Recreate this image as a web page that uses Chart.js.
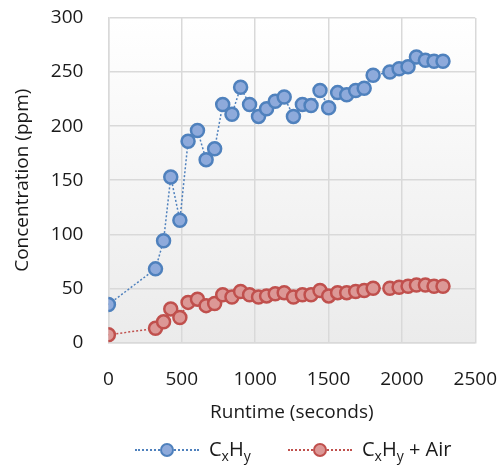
<!DOCTYPE html>
<html lang="en">
  <head>
    <meta charset="UTF-8" />
    <script src="https://cdn.jsdelivr.net/npm/chart.js@4.4.0/dist/chart.umd.min.js"></script>
    <title>Concentration vs runtime</title>
    <style>
      body {
        margin: 0;
        padding: 0;
        background: white;
        font-family: 'Open Sans', sans-serif;
      }

      .container {
        position: relative;
        width: 497px;
        height: 469px;
      }

      .legend {
        position: absolute;
        top: 436px;
        left: 0;
        width: 497px;
        height: 30px;
        font-size: 20px;
        color: #1a1a1a;
      }

      .item {
        position: absolute;
        top: 0;
        display: flex;
        align-items: center;
        height: 28px;
      }

      .swatch {
        position: relative;
        width: 64px;
        height: 14px;
        margin-right: 10px;
      }

      .swatch .line {
        position: absolute;
        left: 0;
        right: 0;
        top: 6px;
        border-top: 2px dotted;
      }

      .swatch .dot {
        position: absolute;
        left: 25px;
        top: 0;
        width: 10px;
        height: 10px;
        border-radius: 50%;
        border: 2px solid;
      }

      sub {
        font-size: 14px;
        vertical-align: -5px;
      }
    </style>
  </head>
  <body>
    <div class="container">
      <canvas id="chart"></canvas>
      <div class="legend">
        <div class="item" style="left: 135px">
          <div class="swatch">
            <div class="line" style="border-color: #4f81bd"></div>
            <div class="dot" style="background: #8eaadb; border-color: #4f81bd"></div>
          </div>
          <span>C<sub>x</sub>H<sub>y</sub></span>
        </div>
        <div class="item" style="left: 288px">
          <div class="swatch">
            <div class="line" style="border-color: #c0504d"></div>
            <div class="dot" style="background: #dc9896; border-color: #c0504d"></div>
          </div>
          <span>C<sub>x</sub>H<sub>y</sub> + Air</span>
        </div>
      </div>
    </div>
    <script>
      // runtime in seconds
      const runtime = [
        0, 321, 376, 425, 487, 543, 607, 666, 724, 779, 842, 901, 962, 1023,
        1078, 1137, 1198, 1261, 1322, 1381, 1442, 1501, 1562, 1624, 1685, 1743,
        1804, 1918, 1981, 2042, 2099, 2160, 2219, 2280,
      ]
      const cxhy = [
        35, 68, 94, 153, 113, 186, 196, 169, 179, 220, 211, 236, 220, 209, 216,
        223, 227, 209, 220, 219, 233, 217, 231, 229, 233, 235, 247, 250, 253,
        255, 264, 261, 260, 260,
      ]
      const cxhyAir = [
        7, 13, 19, 31, 23, 37, 40, 34, 36, 44, 42, 47, 44, 42, 43, 45, 46, 42,
        44, 44, 48, 43, 46, 46, 47, 48, 50, 50, 51, 52, 53, 53, 52, 52,
      ]
      const xTicks = [0, 500, 1000, 1500, 2000, 2500]
      const yTicks = [0, 50, 100, 150, 200, 250, 300]

      const toPoints = (ys) => runtime.map((x, i) => ({ x: x, y: ys[i] }))

      const plotBackground = {
        id: 'plotBackground',
        beforeDraw(chart) {
          const { ctx, chartArea } = chart
          const g = ctx.createLinearGradient(0, chartArea.top, 0, chartArea.bottom)
          g.addColorStop(0, '#ffffff')
          g.addColorStop(1, '#ebebeb')
          ctx.save()
          ctx.fillStyle = g
          ctx.fillRect(chartArea.left, chartArea.top, chartArea.width, chartArea.height)
          ctx.restore()
        },
      }

      Chart.defaults.font.family = '"Open Sans", sans-serif'
      Chart.defaults.color = '#1a1a1a'

      new Chart(document.getElementById('chart'), {
        type: 'scatter',
        data: {
          datasets: [
            {
              label: 'CxHy',
              data: toPoints(cxhy),
              showLine: true,
              borderColor: '#4f81bd',
              backgroundColor: '#8eaadb',
              borderWidth: 1.5,
              borderDash: [2, 2],
              pointRadius: 6.5,
              pointBorderWidth: 2.5,
              pointBorderColor: '#4f81bd',
              pointBackgroundColor: '#8eaadb',
            },
            {
              label: 'CxHy + Air',
              data: toPoints(cxhyAir),
              showLine: true,
              borderColor: '#c0504d',
              backgroundColor: '#dc9896',
              borderWidth: 1.5,
              borderDash: [2, 2],
              pointRadius: 6.5,
              pointBorderWidth: 2.5,
              pointBorderColor: '#c0504d',
              pointBackgroundColor: '#dc9896',
            },
          ],
        },
        options: {
          responsive: true,
          maintainAspectRatio: false,
          animation: false,
          layout: {
            padding: { top: 18, right: 0, bottom: 45, left: 11 },
          },
          plugins: {
            legend: { display: false },
            tooltip: { enabled: false },
          },
          scales: {
            x: {
              type: 'linear',
              min: 0,
              max: 2500,
              afterBuildTicks: (axis) => {
                axis.ticks = xTicks.map((v) => ({ value: v }))
              },
              ticks: {
                font: { size: 19 },
                padding: 0,
                callback: (v) => String(v),
              },
              grid: {
                color: '#d9d9d9',
                lineWidth: 1.5,
                tickLength: 26,
                tickColor: 'rgba(0,0,0,0)',
              },
              border: { color: '#d9d9d9', width: 1.5 },
              title: {
                display: true,
                text: 'Runtime (seconds)',
                font: { size: 19 },
                padding: { top: 10, bottom: 0 },
              },
            },
            y: {
              min: 0,
              max: 300,
              afterBuildTicks: (axis) => {
                axis.ticks = yTicks.map((v) => ({ value: v }))
              },
              ticks: {
                font: { size: 19 },
                padding: 0,
                callback: (v) => String(v),
              },
              grid: {
                color: '#d9d9d9',
                lineWidth: 1.5,
                tickLength: 25,
                tickColor: 'rgba(0,0,0,0)',
              },
              border: { color: '#d9d9d9', width: 1.5 },
              title: {
                display: true,
                text: 'Concentration (ppm)',
                font: { size: 19 },
                padding: { top: 0, bottom: 17 },
              },
            },
          },
        },
        plugins: [plotBackground],
      })
    </script>
  </body>
</html>
